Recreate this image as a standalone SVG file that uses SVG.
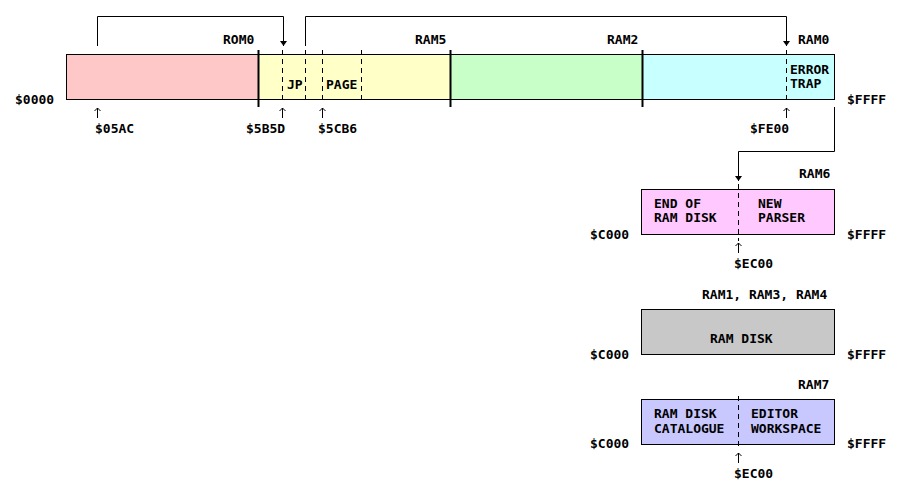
<svg xmlns="http://www.w3.org/2000/svg" width="900" height="496" viewBox="0 0 900 496">
<style>
text{font-family:"DejaVu Sans Mono","Liberation Mono",monospace;font-weight:bold;font-size:13px;fill:#000}
.box{stroke:#000;stroke-width:1}
.div{stroke:#000;stroke-width:2}
.dash{stroke:#000;stroke-width:1;stroke-dasharray:5 4;fill:none}
.ln{stroke:#000;stroke-width:1;fill:none}
.up{stroke:#000;stroke-width:1;fill:none}
</style>
<defs>
<marker id="ah" markerWidth="5" markerHeight="7" refX="5" refY="3.5" orient="auto" markerUnits="userSpaceOnUse" viewBox="0 0 5 7">
<path d="M0,0 L5,3.5 L0,7 Z" fill="#000"/>
</marker>
<path id="upar" d="M0,0 V10 M-3,3 L0,0 L3,3"/>
</defs>
<rect width="900" height="496" fill="#fff"/>

<g id="main-bar">
<rect x="66.5" y="54.5" width="192" height="45" fill="#ffc8c8" class="box"/>
<rect x="258.5" y="54.5" width="192" height="45" fill="#ffffc8" class="box"/>
<rect x="450.5" y="54.5" width="192" height="45" fill="#c8ffc8" class="box"/>
<rect x="642.5" y="54.5" width="192" height="45" fill="#c8ffff" class="box"/>
<line x1="258.5" y1="50" x2="258.5" y2="107" class="div"/>
<line x1="450.5" y1="50" x2="450.5" y2="107" class="div"/>
<line x1="642.5" y1="50" x2="642.5" y2="107" class="div"/>
<line x1="282.5" y1="50" x2="282.5" y2="104" class="dash"/>
<line x1="305.5" y1="50" x2="305.5" y2="104" class="dash"/>
<line x1="322.5" y1="50" x2="322.5" y2="104" class="dash"/>
<line x1="361.5" y1="50" x2="361.5" y2="104" class="dash"/>
<line x1="786.5" y1="50" x2="786.5" y2="104" class="dash"/>
<text x="223" y="44">ROM0</text>
<text x="415" y="44">RAM5</text>
<text x="607" y="44">RAM2</text>
<text x="798" y="44">RAM0</text>
<text x="287" y="89">JP</text>
<text x="326" y="89">PAGE</text>
<text x="790" y="74">ERROR</text>
<text x="790" y="88">TRAP</text>
<text x="15" y="104">$0000</text>
<text x="847" y="104">$FFFF</text>
<use href="#upar" x="97.5" y="108" class="up"/>
<use href="#upar" x="282.5" y="108" class="up"/>
<use href="#upar" x="322.5" y="108" class="up"/>
<use href="#upar" x="786.5" y="108" class="up"/>
<text x="95" y="133">$05AC</text>
<text x="246" y="133">$5B5D</text>
<text x="318" y="133">$5CB6</text>
<text x="750" y="133">$FE00</text>
</g>

<g id="ram6">
<rect x="641.5" y="189.5" width="193" height="45" fill="#ffc8ff" class="box"/>
<line x1="738.5" y1="184" x2="738.5" y2="241" class="dash"/>
<text x="799" y="178">RAM6</text>
<text x="654" y="208">END OF</text>
<text x="654" y="222">RAM DISK</text>
<text x="758" y="208">NEW</text>
<text x="758" y="222">PARSER</text>
<text x="590" y="239">$C000</text>
<text x="847" y="239">$FFFF</text>
<use href="#upar" x="738.5" y="243" class="up"/>
<text x="734" y="268">$EC00</text>
</g>

<g id="ram134">
<rect x="641.5" y="309.5" width="193" height="45" fill="#c8c8c8" class="box"/>
<text x="702" y="299">RAM1, RAM3, RAM4</text>
<text x="710" y="343">RAM DISK</text>
<text x="590" y="359">$C000</text>
<text x="847" y="359">$FFFF</text>
</g>

<g id="ram7">
<rect x="641.5" y="399.5" width="193" height="45" fill="#c8c8ff" class="box"/>
<line x1="738.5" y1="396" x2="738.5" y2="448" class="dash"/>
<text x="798" y="389">RAM7</text>
<text x="654" y="418">RAM DISK</text>
<text x="654" y="433">CATALOGUE</text>
<text x="751" y="418">EDITOR</text>
<text x="751" y="433">WORKSPACE</text>
<text x="590" y="448">$C000</text>
<text x="847" y="448">$FFFF</text>
<use href="#upar" x="738.5" y="453" class="up"/>
<text x="734" y="478">$EC00</text>
</g>

<g id="connectors">
<path d="M97.5,46 V16.5 H283.5 V46" class="ln" marker-end="url(#ah)"/>
<path d="M305.5,46 V16.5 H786.5 V46" class="ln" marker-end="url(#ah)"/>
<path d="M834.5,107 V151.5 H738.5 V181" class="ln" marker-end="url(#ah)"/>
</g>
</svg>
